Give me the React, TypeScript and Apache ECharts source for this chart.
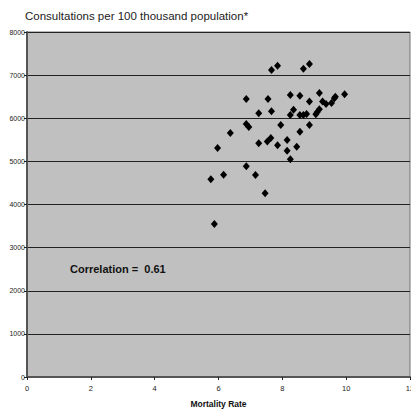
import React, { useEffect, useRef } from "react";
import * as echarts from "echarts";

const mortalityRate: number[] = [
  7.66, 7.85, 8.66, 8.85,
  6.87, 7.55, 8.25, 8.55, 9.16, 9.95, 8.85, 9.26, 9.37, 9.54, 9.66, 9.63,
  7.26, 7.66, 8.35, 8.25, 8.55, 8.66, 8.76, 9.05, 9.09, 9.16,
  6.87, 6.95, 7.95, 6.37, 8.55, 8.85,
  5.97, 7.26, 7.53, 7.64, 7.85, 8.15, 8.15, 8.45, 8.25,
  6.87, 6.16, 5.76, 7.16, 7.46, 5.87,
];
const consultations: number[] = [
  7119, 7219, 7149, 7258,
  6446, 6446, 6539, 6523, 6586, 6555, 6388, 6388, 6330, 6354, 6500, 6463,
  6115, 6161, 6198, 6075, 6075, 6075, 6099, 6092, 6138, 6207,
  5867, 5800, 5843, 5658, 5688, 5843,
  5310, 5419, 5460, 5540, 5373, 5496, 5248, 5340, 5048,
  4886, 4691, 4584, 4684, 4260, 3548,
];
const correlationLabel = "Correlation =  0.61";
const titleText = "Consultations per 100 thousand population*";
const xAxisName = "Mortality Rate";

const FONT = "'Liberation Sans', Arial, sans-serif";

export default function App() {
  const ref = useRef<HTMLDivElement>(null);
  useEffect(() => {
    if (!ref.current) return;
    const chart = echarts.init(ref.current, undefined, { renderer: "svg" });
    const data = mortalityRate.map((x, i) => [x, consultations[i]]);
    chart.setOption({
      animation: false,
      backgroundColor: "#ffffff",
      title: {
        text: titleText,
        left: 20,
        top: 5,
        textStyle: { fontFamily: FONT, fontSize: 11.5, fontWeight: "normal", color: "#222" },
      },
      grid: {
        left: 27,
        right: 1,
        top: 32,
        bottom: 37,
        containLabel: false,
        outerBoundsMode: "none",
        show: true,
        backgroundColor: "#C0C0C0",
        borderColor: "#707070",
        borderWidth: 1,
      },
      xAxis: {
        type: "value",
        min: 0,
        max: 12,
        interval: 2,
        name: xAxisName,
        nameLocation: "middle",
        nameGap: 22,
        nameTextStyle: { fontFamily: FONT, fontSize: 8.5, fontWeight: "bold", color: "#111" },
        axisLine: { show: true, lineStyle: { color: "#555", width: 2 } },
        axisTick: { show: true, length: 3, inside: false, lineStyle: { color: "#222" } },
        axisLabel: { fontFamily: FONT, fontSize: 7.5, color: "#222", margin: 7, showMaxLabel: true },
        splitLine: { show: false },
      },
      yAxis: {
        type: "value",
        min: 0,
        max: 8000,
        interval: 1000,
        axisLine: { show: true, lineStyle: { color: "#555", width: 2 } },
        axisTick: { show: true, length: 3, lineStyle: { color: "#222" } },
        axisLabel: {
          fontFamily: FONT,
          fontSize: 7,
          color: "#222",
          margin: 2,
          formatter: (v: number) => String(v),
        },
        splitLine: { show: true, lineStyle: { color: "#222", width: 1 } },
      },
      graphic: [
        {
          type: "text",
          left: 70,
          top: 263,
          style: {
            text: correlationLabel,
            fontFamily: FONT,
            fontSize: 11,
            fontWeight: "bold",
            fill: "#111",
          },
        },
      ],
      series: [
        {
          type: "scatter",
          data,
          symbol: "diamond",
          symbolSize: [7, 8],
          itemStyle: { color: "#000", opacity: 1 },
        },
      ],
    });
    return () => chart.dispose();
  }, []);
  return (
    <div
      ref={ref}
      style={{ position: "fixed", left: 0, top: 0, width: 411, height: 414 }}
    />
  );
}
